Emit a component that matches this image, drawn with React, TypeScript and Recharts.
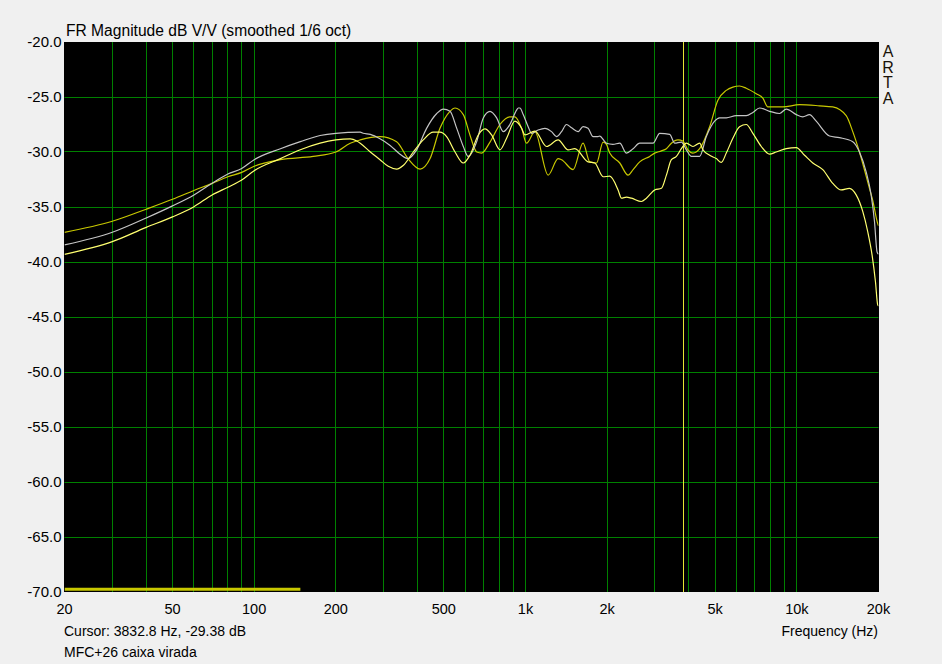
import { LineChart, Line, XAxis, YAxis, ReferenceLine, ReferenceArea } from 'recharts';

// frequency axis / level axis
const FREQ_TICKS = [20, 50, 100, 200, 500, 1000, 2000, 5000, 10000, 20000];
const DB_TICKS = [-70, -65, -60, -55, -50, -45, -40, -35, -30, -25, -20];
const GRID_HZ = [
  30, 40, 50, 60, 70, 80, 90, 100, 200, 300, 400, 500, 600, 700, 800, 900,
  1000, 2000, 3000, 4000, 5000, 6000, 7000, 8000, 9000, 10000,
];
const GRID_DB = [-25, -30, -35, -40, -45, -50, -55, -60, -65];
const CURSOR_HZ = 3832.8;

// [Hz, dB]
const GRAY: [number, number][] = [
  [20, -38.45], [30, -37.3], [40, -36.0], [50, -34.9], [60, -33.9], [70, -32.85], [80, -32.0], [90, -31.5],
  [100, -30.7], [125, -29.7], [148, -29.06], [175, -28.5], [200, -28.3], [246, -28.2], [252, -28.3], [268, -28.4],
  [291, -28.8], [317, -29.4], [345, -30.2], [369, -30.6], [397, -29.8], [432, -27.85], [471, -26.5], [498, -26.1],
  [527, -26.3], [558, -27.85], [590, -29.5], [615, -30.4], [661, -29.06], [699, -26.9], [740, -26.3], [783, -26.9],
  [828, -28.15], [876, -27.5], [927, -26.2], [940, -26.0], [954, -26.0], [981, -26.6], [1023, -27.7], [1053, -28.3],
  [1114, -28.0], [1179, -27.85], [1247, -28.15], [1301, -28.6], [1358, -28.15], [1416, -27.5], [1478, -27.8],
  [1563, -28.15], [1630, -27.7], [1701, -27.85], [1775, -28.6], [1851, -28.6], [1878, -28.55], [1960, -29.06],
  [1988, -29.2], [2100, -29.3], [2226, -29.2], [2356, -30.1], [2492, -29.7], [2636, -29.2], [2951, -29.2],
  [3124, -28.3], [3400, -28.4], [3548, -29.2], [3754, -29.1], [3916, -29.8], [4085, -30.4], [4384, -30.4],
  [4640, -28.6], [4978, -27.2], [5193, -26.9], [5496, -26.9], [5981, -26.7], [6511, -26.7], [6888, -26.4],
  [7290, -26.0], [7934, -26.3], [8636, -26.5], [9142, -26.1], [9953, -26.6], [10524, -26.8], [11138, -26.6],
  [11789, -27.2], [13195, -28.55], [14362, -28.7], [16076, -29.06], [17014, -30.0], [18010, -31.8],
  [18788, -33.9], [19326, -36.3], [19764, -39.1], [20000, -39.3],
];

const YELLOW: [number, number][] = [
  [20, -39.3], [30, -38.15], [40, -36.85], [50, -35.9], [60, -34.97], [70, -33.9], [80, -33.2], [90, -32.55],
  [100, -31.7], [125, -30.6], [148, -29.8], [175, -29.2], [200, -28.9], [226, -28.8], [239, -29.0], [246, -29.2],
  [268, -30.0], [291, -30.7], [312, -31.3], [335, -31.55], [355, -31.2], [386, -30.0], [420, -28.9], [457, -28.2],
  [484, -28.2], [512, -28.6], [550, -30.0], [590, -31.0], [624, -30.3], [670, -28.45], [709, -27.9], [750, -28.45],
  [805, -29.8], [852, -28.75], [914, -27.2], [968, -27.85], [995, -28.45], [1083, -28.1], [1196, -29.5],
  [1319, -28.9], [1436, -29.8], [1520, -29.7], [1701, -30.9], [1800, -31.0], [1932, -32.25], [2044, -32.2],
  [2194, -33.45], [2258, -34.2], [2356, -34.1], [2458, -34.2], [2674, -34.5], [2790, -34.2], [2994, -33.45],
  [3169, -33.3], [3306, -32.1], [3449, -30.7], [3598, -30.4], [3754, -29.7], [3916, -29.2], [4142, -29.5],
  [4384, -29.2], [4508, -29.8], [4772, -30.3], [5050, -30.6], [5268, -30.95], [5496, -30.1], [5812, -28.75],
  [6151, -27.7], [6511, -27.5], [6888, -28.3], [7396, -29.5], [7934, -30.2], [8398, -30.0], [9142, -29.7],
  [9953, -29.6], [10677, -30.3], [11454, -31.0], [12466, -31.6], [13569, -32.85], [14571, -33.45],
  [15633, -33.3], [16546, -33.9], [17498, -35.4], [18256, -37.25], [18948, -39.4], [19490, -41.8],
  [19866, -43.9], [20000, -44.0],
];

const OLIVE: [number, number][] = [
  [20, -37.3], [30, -36.3], [40, -35.2], [50, -34.3], [60, -33.5], [70, -32.85], [80, -32.25], [90, -31.85],
  [100, -31.3], [125, -30.7], [165, -30.4], [200, -30.0], [226, -29.2], [246, -28.9], [291, -28.6], [335, -29.06],
  [369, -30.6], [409, -31.55], [445, -30.6], [484, -27.85], [527, -26.3], [550, -26.0], [590, -26.6], [624, -28.45],
  [661, -30.0], [689, -30.1], [740, -29.1], [805, -27.5], [876, -26.8], [914, -26.8], [968, -27.85], [1009, -29.2],
  [1083, -28.15], [1212, -32.1], [1319, -30.6], [1358, -30.7], [1498, -31.6], [1630, -29.2], [1726, -30.9],
  [1827, -31.0], [1932, -29.1], [1988, -29.3], [2044, -30.1], [2226, -31.0], [2388, -32.1], [2492, -31.6],
  [2636, -30.9], [2870, -30.4], [2994, -30.1], [3169, -29.9], [3306, -29.7], [3449, -29.2], [3648, -28.9],
  [3800, -29.0], [3970, -29.8], [4142, -30.1], [4384, -29.7], [4772, -27.7], [5118, -25.3], [5496, -24.4],
  [5812, -24.1], [6151, -24.0], [6511, -24.2], [7089, -24.7], [7497, -25.1], [7821, -25.9], [8882, -25.9],
  [10234, -25.7], [12122, -25.8], [13569, -25.9], [15202, -26.7], [16076, -28.15], [17014, -30.0],
  [18520, -33.3], [19044, -34.4], [19866, -36.5], [20000, -36.7],
];

// thick marker along the bottom edge
const BAND: [number, number][] = [[20, -69.75], [148, -69.75]];

const rows = (pts: [number, number][]) => pts.map(([f, db]) => ({ f, db }));
const fmtHz = (v: number) => (v >= 1000 ? `${v / 1000}k` : `${v}`);

const GRID = '#008000';
const FONT = "Arial, 'Liberation Sans', sans-serif";

// snap 1px rules onto whole pixels so they stay sharp like the original
const snap = (v: number) => Math.floor(v) + 0.5;
const CrispLine = (p: any) => {
  const vertical = p.x1 === p.x2;
  const x1 = vertical ? snap(p.x1) : p.x1;
  const x2 = vertical ? snap(p.x2) : p.x2;
  const y1 = vertical ? p.y1 : snap(p.y1);
  const y2 = vertical ? p.y2 : snap(p.y2);
  return <line x1={x1} y1={y1} x2={x2} y2={y2} stroke={p.stroke} strokeWidth={1} />;
};
const PlotBg = (p: any) => {
  const x = Math.floor(p.x);
  const w = Math.ceil(p.x + p.width) - x;
  return <rect x={x} y={Math.round(p.y)} width={w} height={Math.round(p.height)} fill="#000" />;
};

export default function App() {
  return (
    <div style={{ position: 'absolute', left: 0, top: 0, width: 942, height: 664, background: '#f0f0f0', fontFamily: FONT, color: '#000' }}>
      <div style={{ position: 'absolute', left: 66, top: 23, fontSize: 15.6, lineHeight: 1, whiteSpace: 'nowrap' }}>
        FR Magnitude dB V/V (smoothed 1/6 oct)
      </div>
      <LineChart width={942} height={664} margin={{ top: 42, right: 63.5, bottom: 42, left: 4.5 }} style={{ fontFamily: FONT }}>
        <XAxis
          type="number"
          dataKey="f"
          scale="log"
          domain={[20, 20000]}
          ticks={FREQ_TICKS}
          tickFormatter={fmtHz}
          interval={0}
          allowDataOverflow
          axisLine={false}
          tickLine={false}
          tickSize={0}
          tickMargin={12}
          height={30}
          tick={{ fill: '#000', fontSize: 14.5 }}
        />
        <YAxis
          type="number"
          domain={[-70, -20]}
          ticks={DB_TICKS}
          tickFormatter={(v: number) => v.toFixed(1)}
          interval={0}
          allowDataOverflow
          axisLine={false}
          tickLine={false}
          tickSize={0}
          tickMargin={3}
          width={60}
          tick={{ fill: '#000', fontSize: 15 }}
        />
        <ReferenceArea x1={20} x2={20000} y1={-70} y2={-20} shape={PlotBg} />
        {GRID_HZ.map(f => (
          <ReferenceLine key={`v${f}`} x={f} stroke={GRID} shape={CrispLine} />
        ))}
        {GRID_DB.map(d => (
          <ReferenceLine key={`h${d}`} y={d} stroke={GRID} shape={CrispLine} />
        ))}
        <ReferenceLine x={CURSOR_HZ} stroke="#e6e632" shape={CrispLine} />
        <Line data={rows(BAND)} dataKey="db" type="linear" stroke="#c8c800" strokeWidth={3} dot={false} activeDot={false} isAnimationActive={false} />
        <Line data={rows(OLIVE)} dataKey="db" type="monotone" stroke="#c8c800" strokeWidth={1.2} dot={false} activeDot={false} isAnimationActive={false} />
        <Line data={rows(GRAY)} dataKey="db" type="monotone" stroke="#c4c4c4" strokeWidth={1.2} dot={false} activeDot={false} isAnimationActive={false} />
        <Line data={rows(YELLOW)} dataKey="db" type="monotone" stroke="#ffff70" strokeWidth={1.2} dot={false} activeDot={false} isAnimationActive={false} />
      </LineChart>
      <div style={{ position: 'absolute', left: 880, top: 44, width: 16, textAlign: 'center', fontSize: 16, lineHeight: '15.7px', color: '#1a1208' }}>
        A<br />R<br />T<br />A
      </div>
      <div style={{ position: 'absolute', left: 64, top: 624, fontSize: 14, lineHeight: 1, whiteSpace: 'nowrap' }}>
        Cursor: 3832.8 Hz, -29.38 dB
      </div>
      <div style={{ position: 'absolute', right: 942 - 878, top: 624, fontSize: 14, lineHeight: 1, whiteSpace: 'nowrap' }}>
        Frequency (Hz)
      </div>
      <div style={{ position: 'absolute', left: 64, top: 645, fontSize: 14, lineHeight: 1, whiteSpace: 'nowrap' }}>
        MFC+26 caixa virada
      </div>
    </div>
  );
}
